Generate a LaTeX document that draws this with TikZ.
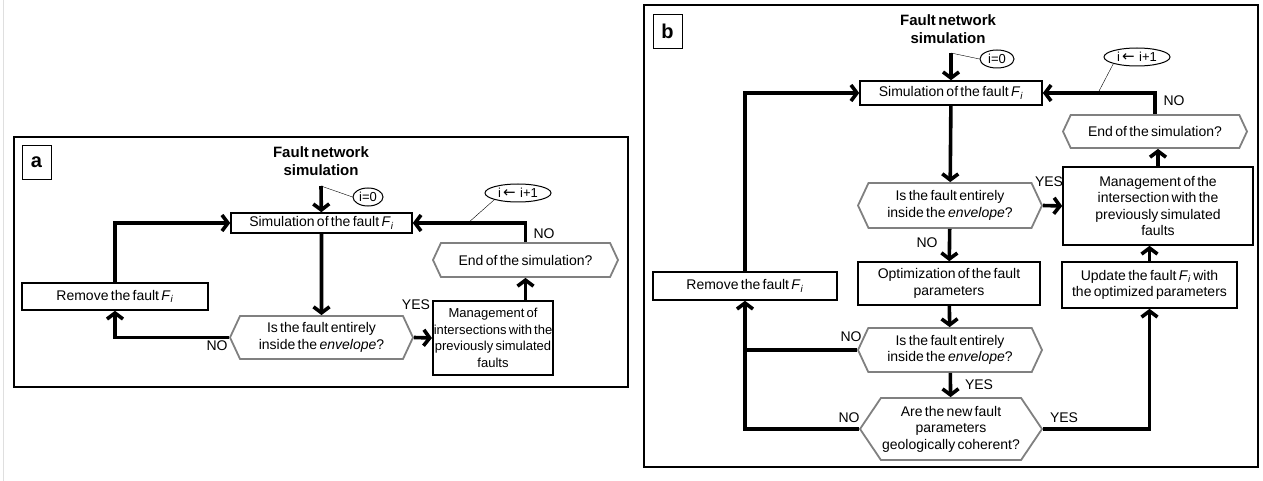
\documentclass[tikz,border=0pt]{standalone}
\usepackage{fontspec}
\setmainfont[WordSpace=0.6]{Liberation Sans}
\newfontfamily\arrowfont{DejaVu Sans}
\usetikzlibrary{arrows.meta,shapes.symbols,shapes.geometric}

\tikzset{
  stepbox/.style={draw, line width=1.6pt, align=center, inner sep=1pt, font=\fontsize{14}{16.5}\selectfont},
  test/.style={draw=gray, line width=1.8pt, signal, signal to=east and west, signal pointer angle=130, align=center, inner sep=1pt, font=\fontsize{14}{16.5}\selectfont},
  flow/.style={line width=3.6pt, -{Straight Barb[length=6pt,width=16pt]}},
  plain/.style={line width=3.6pt},
  counter/.style={draw, ellipse, line width=1pt, inner sep=0.5pt, minimum height=18pt, font=\fontsize{13}{13}\selectfont},
  tag/.style={font=\fontsize{14}{14}\selectfont, inner sep=1pt},
  title/.style={align=center, font=\bfseries\fontsize{15}{17.5}\selectfont},
  panel/.style={draw, line width=2.2pt},
  letter/.style={draw, line width=0.8pt, minimum width=29pt, minimum height=34pt, font=\bfseries\fontsize{20}{20}\selectfont},
}
\newcommand{\Fi}{\textit{F}\textsubscript{\textit{i}}}
\newcommand{\incr}{i\,{\arrowfont\fontsize{15}{15}\selectfont ←}\, i+1}

\begin{document}
\begin{tikzpicture}[x=1pt, y=-1pt]
\useasboundingbox (0,0) rectangle (1263,481);
\draw[gray!25, line width=1pt] (3,0) -- (3,481);

% panel a
\draw[panel] (14,137) rectangle (628,387);
\node[letter] (lab_a) at (36.5,162) {a};
\node[title] (title_a) at (321,161) {Fault network\\simulation};
\node[stepbox, minimum width=181pt, minimum height=20pt] (sim_a) at (321.5,223) {Simulation of the fault \Fi};
\node[stepbox, minimum width=186pt, minimum height=27pt] (rem_a) at (115,296.5) {Remove the fault \Fi};
\node[test, minimum width=183pt, minimum height=43pt] (env_a) at (321.5,337.5) {Is the fault entirely\\inside the \textit{envelope}?};
\node[stepbox, minimum width=113pt, minimum height=74pt, font=\fontsize{13}{16.5}\selectfont] (man_a) at (493,338) {Management of\\intersections with the\\previously simulated\\faults};
\node[test, minimum width=185pt, minimum height=34pt] (end_a) at (525.5,260) {End of the simulation?};
\node[counter, minimum width=30pt] (zero_a) at (368,197) {i=0};
\node[counter, minimum width=66pt] (inc_a) at (518,193) {\incr};
\coordinate (in_a) at (321,186);
\coordinate (hook_a) at (468,223);

\draw[flow] (in_a) -- (sim_a);
\draw[thin] (in_a) -- (zero_a.west);
\draw[flow] (sim_a) -- (env_a);
\draw[flow] (env_a.west) -| (rem_a.south);
\draw[flow] (rem_a.north) |- (sim_a.west);
\draw[flow] (env_a.east) -- (man_a.west);
\draw[flow] (man_a.north -| end_a) -- (end_a.south);
\draw[flow] (end_a.north) |- (sim_a.east);
\draw[thin] (hook_a) -- (inc_a.south west);
\node[tag] at (217,346) {NO};
\node[tag] at (416,305) {YES};
\node[tag] at (544,234) {NO};

% panel b
\draw[panel] (644,5) rectangle (1258,467);
\node[letter] (lab_b) at (667.5,31) {b};
\node[title] (title_b) at (948,29) {Fault network\\simulation};
\node[stepbox, minimum width=182pt, minimum height=24pt] (sim_b) at (951,93) {Simulation of the fault \Fi};
\node[test, minimum width=184pt, minimum height=45pt] (env_b) at (950,205.5) {Is the fault entirely\\inside the \textit{envelope}?};
\node[stepbox, minimum width=182pt, minimum height=43pt] (opt_b) at (949,283.5) {Optimization of the fault\\parameters};
\node[test, minimum width=184pt, minimum height=44pt] (chk_b) at (950,350) {Is the fault entirely\\inside the \textit{envelope}?};
\node[test, minimum width=182pt, minimum height=62pt, signal pointer angle=112] (geo_b) at (951,429) {Are the new fault\\parameters\\geologically coherent?};
\node[stepbox, minimum width=184pt, minimum height=28pt] (rem_b) at (745,286) {Remove the fault \Fi};
\node[stepbox, minimum width=190pt, minimum height=78pt] (man_b) at (1158,206) {Management of the\\intersection with the\\previously simulated\\faults};
\node[test, minimum width=184pt, minimum height=33pt] (end_b) at (1155,131.5) {End of the simulation?};
\node[stepbox, minimum width=175pt, minimum height=46pt] (upd_b) at (1149.5,285) {Update the fault \Fi{} with\\the optimized parameters};
\node[counter, minimum width=34pt] (zero_b) at (997,59) {i=0};
\node[counter, minimum width=66pt] (inc_b) at (1137,57) {\incr};
\coordinate (in_b) at (951,53);
\coordinate (hook_b) at (1098,93);

\draw[flow] (in_b) -- (sim_b);
\draw[thin] (in_b) -- (zero_b.west);
\draw[flow] (sim_b) -- (env_b);
\draw[flow] (env_b.east) -- (man_b.west);
\draw[flow] (env_b) -- (opt_b);
\draw[flow] (opt_b) -- (chk_b);
\draw[flow] (chk_b) -- (geo_b);
\draw[plain] (chk_b.west) -- (chk_b.west -| rem_b);
\draw[flow] (geo_b.west) -| (rem_b.south);
\draw[flow] (rem_b.north) |- (sim_b.west);
\draw[flow] (geo_b.east) -| (upd_b.south);
\draw[flow] (upd_b.north) -- (upd_b.north |- man_b.south);
\draw[flow] (man_b.north) -- (man_b.north |- end_b.south);
\draw[flow] (end_b.north) |- (sim_b.east);
\draw[thin] (hook_b) -- (inc_b.south west);
\node[tag] at (1049,182) {YES};
\node[tag] at (927,243) {NO};
\node[tag] at (979,385) {YES};
\node[tag] at (851,337) {NO};
\node[tag] at (849,418) {NO};
\node[tag] at (1064,418) {YES};
\node[tag] at (1174,101) {NO};
\end{tikzpicture}
\end{document}
